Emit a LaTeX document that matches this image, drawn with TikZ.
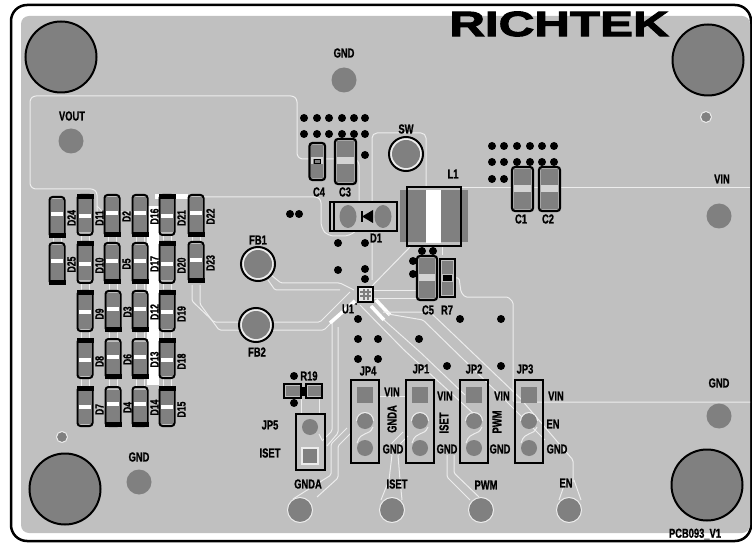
\documentclass[tikz,border=0pt]{standalone}
\usepackage{fontspec}
\setmainfont{Liberation Sans}[FakeStretch=0.72,BoldFeatures={FakeBold=0.9}]
\newfontfamily\logofont{Liberation Sans}[FakeStretch=1.41,BoldFeatures={FakeBold=3}]
\definecolor{board}{HTML}{C0C0C0}
\definecolor{padgray}{HTML}{808080}
\definecolor{trace}{HTML}{EDEDED}
\tikzset{
  lbl/.style={font=\fontsize{13}{13}\selectfont\bfseries,inner sep=0pt,text=black},
  dlbl/.style={font=\fontsize{12}{12}\selectfont\bfseries,inner sep=0pt,text=black,rotate=90},
  via/.style={fill=black,draw=none},
  tr/.style={draw=trace,line width=1pt,line join=round,rounded corners=1.5pt},
  trw/.style={draw=white,line width=3.5pt,line join=round},
  pad/.style={fill=padgray,draw=none},
  hole/.style={fill=padgray,draw=black,line width=2pt},
  tp/.style={fill=padgray,draw=trace,line width=1pt},
  box/.style={draw=black,line width=2.4pt},
}
% diode: cx, y1, y2, band y, label
\newcommand{\diobody}[4]{%
  \fill[board] ({#1-7.5},#2) rectangle ({#1+7.5},#3);
  \draw[black,line width=2pt,rounded corners=3pt] ({#1-7.5},#2) rectangle ({#1+7.5},#3);
  \fill[padgray] ({#1-5.8},{#2+2.5}) rectangle ({#1+5.8},{#3-2.5});
  \fill[white] ({#1-5.8},{#4-2.3}) rectangle ({#1+5.8},{#4+2.3});
}
\newcommand{\diot}[5]{\diobody{#1}{#2}{#3}{#4}
  \fill[black] ({#1-8.5},{#2-1}) rectangle ({#1+8.5},{#2+4});
  \node[dlbl] at ({#1+14.5},{(#2+#3)/2+3}) {#5};}
\newcommand{\diob}[5]{\diobody{#1}{#2}{#3}{#4}
  \fill[black] ({#1-8.5},{#3-4}) rectangle ({#1+8.5},{#3+1});
  \node[dlbl] at ({#1+14.5},{(#2+#3)/2+1}) {#5};}
% capacitor: x1,y1,x2,y2,band
\newcommand{\capc}[5]{%
  \draw[black,fill=board,line width=2.2pt,rounded corners=3pt] (#1,#2) rectangle (#3,#4);
  \fill[padgray] ({#1+1.6},{#2+2}) rectangle ({#3-1.6},{#4-2});
  \fill[board!70!white] ({#1+1.6},{#5-3.5}) rectangle ({#3-1.6},{#5+3.5});
}
% jumper at centre x
\newcommand{\jump}[1]{%
  \draw[box] ({#1-14},380) rectangle ({#1+14},463);
  \fill[padgray] ({#1-8},387) rectangle ({#1+8},403);
  \fill[padgray] (#1,421) circle (8);
  \fill[padgray] (#1,448) circle (8);
  \draw[tr] ({#1+8},427) .. controls ({#1+4},437) and ({#1-4},430) .. ({#1-8},443);
  \draw[tr] ({#1-8.5},421) arc (180:360:8.5);
}
\begin{document}
\begin{tikzpicture}[x=1pt,y=-1pt]
\useasboundingbox (0,0) rectangle (752,545);
\fill[white] (0,0) rectangle (752,545);
\draw[black,line width=2.5pt,rounded corners=16pt] (11,5) rectangle (751,541);
\fill[board,rounded corners=8pt] (21,16) rectangle (750,533);

% ---- copper outlines
\draw[tr,rounded corners=6pt] (97,212) -- (97,189) -- (30,189) -- (30,96) -- (297,96) -- (297,159) -- (359,159) -- (359,228) -- (350,236) -- (328,236) -- (321,228) -- (321,197) -- (160,197);
\draw[tr] (97,206) -- (103,212) -- (150,212);
\draw[tr,rounded corners=5pt] (372,280) -- (372,133) -- (426,133) -- (426,188);
\draw[tr] (460,188) -- (750,188);
\draw[tr] (442,246) -- (442,255);
\draw[tr] (372,286) -- (410,247);
\draw[tr] (451,278) -- (459,278) -- (461,292) -- (465,297) -- (508,297) -- (513,302) -- (513,402) -- (750,402);
\draw[tr] (374,291) -- (417,291);
\draw[tr] (374,298) -- (417,298);
% white copper between diodes
\fill[white] (155,194) rectangle (188,199);
\fill[white] (147,206) rectangle (159,385);
\foreach \x in {57,85,112,140,167,196}{
  \draw[trace,line width=.8pt] ({\x-4},236) -- ({\x-4},244) ({\x+4},236) -- ({\x+4},244);}
\foreach \x in {85,113,140,167}{
  \draw[trace,line width=.8pt] ({\x-4},283) -- ({\x-4},292) ({\x+4},283) -- ({\x+4},292);
  \draw[trace,line width=.8pt] ({\x-4},331) -- ({\x-4},339) ({\x+4},331) -- ({\x+4},339);
  \draw[trace,line width=.8pt] ({\x-4},378) -- ({\x-4},387) ({\x+4},378) -- ({\x+4},387);}
% feedback traces
\draw[tr] (192,285) -- (192,301) -- (214,322) -- (240,322);
\draw[tr] (200,285) -- (200,304) -- (219,330) -- (240,330);
\draw[tr] (271,275) -- (281,283) -- (340,283) -- (354,290);
\draw[tr] (268,280) -- (275,290) -- (340,290);
\draw[tr] (273,322) -- (320,322) -- (350,292);
\draw[tr] (273,330) -- (324,330) -- (354,300);
\draw[trw] (355,301) -- (330,323);
% left-bottom traces
\draw[tr] (332,323) -- (332,431) -- (322,441);
\draw[tr] (338,327) -- (338,433) -- (327,446);
\draw[tr] (351,433) -- (338,446) -- (338,478) -- (317,497);
\draw[tr] (347,428) -- (331,444) -- (331,475) -- (293,499);
\draw[tr] (301,399) -- (301,414) (319,399) -- (319,414);
% right-bottom traces
\draw[trw] (371,306) -- (384,320);
\draw[trw] (376,300) -- (390,315);
\draw[tr] (360,305) -- (404,350) -- (474,414);
\draw[tr] (384,320) -- (420,352) -- (465,395);
\draw[tr] (388,314) -- (423,320) -- (503,398) -- (545,440);
\draw[tr] (383,312) -- (430,312) -- (520,398) -- (573,460) -- (573,482);
\draw[tr] (379,396) -- (405,396);
\draw[tr] (403,432) -- (391,444) -- (391,455);
\draw[tr] (399,455) -- (399,445) -- (408,436);
\draw[tr] (447,455) -- (447,477) -- (470,500);
\draw[tr] (454,455) -- (454,473) -- (479,497);
\draw[tr] (392,455) -- (389,480) -- (381,500);
\draw[tr] (398,455) -- (400,480) -- (402,500);
\draw[tr] (566,480) -- (559,500);
\draw[tr] (574,480) -- (581,500);

% ---- big holes
\foreach \p in {(61,57),(708,60),(65,489),(707,485)} \draw[hole] \p circle (35.5);
% ---- test points
\fill[padgray] (71,141) circle (12.5);
\fill[padgray] (344,80) circle (12.5);
\fill[padgray] (139,482) circle (12.5);
\fill[padgray] (719,216) circle (12.5);
\fill[padgray] (719,416) circle (12.5);
\draw[tp] (706,117) circle (5.5);
\draw[tp] (62,437) circle (5.5);
\draw[tp] (300,510) circle (12.5);
\draw[tp] (392,510) circle (12.5);
\draw[tp] (481,510) circle (12.5);
\draw[tp] (569,510) circle (12.5);
% rings
\foreach \p in {(258,264),(256,325),(406,154)}{
  \draw[black,fill=trace,line width=2pt] \p circle (17);
  \fill[padgray] \p circle (14);
}

% ---- vias
\foreach \y in {118,134}\foreach \x in {304,317,329,342,354,365}\fill[via] (\x,\y) circle (4);
\foreach \y in {146,162}\foreach \x in {492,504,517,530,542,554}\fill[via] (\x,\y) circle (4);
\foreach \p in {(492,179),(504,179),(365,155),(290,214),(299,214),(338,243),(365,243),(338,270),(365,269),(365,279),(422,251),(433,251),(413,261),(413,274),(358,319),(358,339),(378,339),(358,359),(378,359),(419,339),(460,319),(501,319),(447,366),(501,366),(294,376),(294,403)}
  \fill[via] \p circle (4);

% ---- diodes
\diob{57}{197}{237}{214}{D24}
\diot{85}{195}{235}{216}{D11}
\diob{112}{195}{236}{213}{D2}
\diob{140}{195}{236}{213}{D16}
\diot{167}{195}{235}{216}{D21}
\diob{196}{195}{236}{213}{D22}
\diob{57}{243}{284}{261}{D25}
\diot{85}{242}{283}{264}{D10}
\diob{112}{243}{283}{261}{D5}
\diob{140}{243}{283}{261}{D17}
\diot{167}{242}{283}{264}{D20}
\diob{196}{242}{282}{260}{D23}
\diot{85}{291}{331}{312}{D9}
\diob{113}{291}{331}{309}{D3}
\diob{140}{291}{331}{309}{D12}
\diot{167}{291}{331}{312}{D19}
\diot{85}{339}{378}{360}{D8}
\diob{113}{339}{378}{357}{D6}
\diob{140}{339}{378}{357}{D13}
\diot{167}{339}{378}{360}{D18}
\diot{85}{387}{426}{407}{D7}
\diob{113}{387}{426}{404}{D4}
\diob{140}{387}{426}{404}{D14}
\diot{167}{387}{426}{407}{D15}

% ---- capacitors
\capc{309.5}{143}{325}{180}{161}
\fill[padgray] (313,159) rectangle (321,164);
\draw[black,line width=.8pt] (314,159.5) rectangle (320,163);
\capc{335}{139}{356}{184}{161}
\capc{512}{167}{533}{211}{189}
\capc{539}{167}{560}{211}{189}
\capc{417}{256}{437}{300}{278}
% R7
\draw[black,fill=board,line width=1.8pt] (440,259) rectangle (455,297);
\fill[padgray] (442,261) rectangle (453,274);
\fill[padgray] (442,282) rectangle (453,295);
\fill[black] (443,275) rectangle (452,281);
% R19
\draw[black,fill=board,line width=2.2pt] (284,384) rectangle (301,398);
\draw[black,fill=board,line width=2.2pt] (306,384) rectangle (322,398);
\fill[padgray] (286,386) rectangle (299.5,396);
\fill[padgray] (307.5,386) rectangle (320.5,396);
\fill[black] (300,387) rectangle (307,396);

% ---- D1
\draw[box,fill=board] (330,202) rectangle (397,231);
\draw[black,line width=1.2pt] (334,202) -- (334,231);
\fill[padgray] (348,216.5) ellipse (8.5 and 11.5);
\fill[padgray] (383,216.5) ellipse (8.5 and 11.5);
\fill[black] (361,211) rectangle (363,222);
\fill[black] (362,216.5) -- (373,210) -- (373,223) -- cycle;

% ---- L1
\fill[padgray] (400,190) rectangle (468,242);
\fill[white] (426,190) rectangle (441,243);
\draw[box] (407,187) rectangle (461,246);

% ---- U1
\fill[board!40!white] (359,288) rectangle (372,301);
\foreach \v in {363,367}{
  \fill[padgray] (\v,289) rectangle ({\v+2},300);}
\foreach \v in {291,295}{
  \fill[padgray] (360,\v) rectangle (371,{\v+2});}
\draw[black,line width=1.5pt] (358,287) rectangle (373,302);
\fill[black] (356,304) circle (1);

% ---- jumpers
\jump{365}
\jump{420}
\jump{474}
\jump{529}
\draw[box] (296,414) rectangle (325,470);
\fill[padgray] (310,427) circle (8);
\fill[trace] (301,447) rectangle (319,465);
\fill[padgray] (303,449) rectangle (317,463);
\draw[tr] (319,434) -- (322,440);

% ---- labels
\foreach \p/\t in {
 {72,116}/VOUT,{344,53}/GND,{406,129}/SW,{453,174}/L1,{319,192}/C4,{345,192}/C3,
 {521,219}/C1,{548,219}/C2,{376,238}/D1,{258,240}/FB1,{257,352}/FB2,{348,309}/U1,
 {428,310}/C5,{447,310}/R7,{309,376}/R19,{270,425}/JP5,{270,453}/ISET,
 {368,371}/JP4,{421,369}/JP1,{474,369}/JP2,{525,369}/JP3,
 {392,392}/VIN,{445,396}/VIN,{502,396}/VIN,{556,396}/VIN,{553,424}/EN,
 {393,449}/GND,{447,449}/GND,{500,449}/GND,{557,449}/GND,
 {308,484}/GNDA,{397,484}/ISET,{486,485}/PWM,{566,483}/EN,
 {722,179}/VIN,{719,383}/GND,{139,457}/GND,{695,534}/PCB093\_V1}
  \node[lbl] at (\p) {\t};
\node[lbl,rotate=90] at (392,419) {GNDA};
\node[lbl,rotate=90] at (444,423) {ISET};
\node[lbl,rotate=90] at (497,422) {PWM};
\node[inner sep=0pt,font=\logofont\fontsize{35}{35}\selectfont\bfseries] (logo) at (559,24) {RICHTEK};
\end{tikzpicture}
\end{document}
